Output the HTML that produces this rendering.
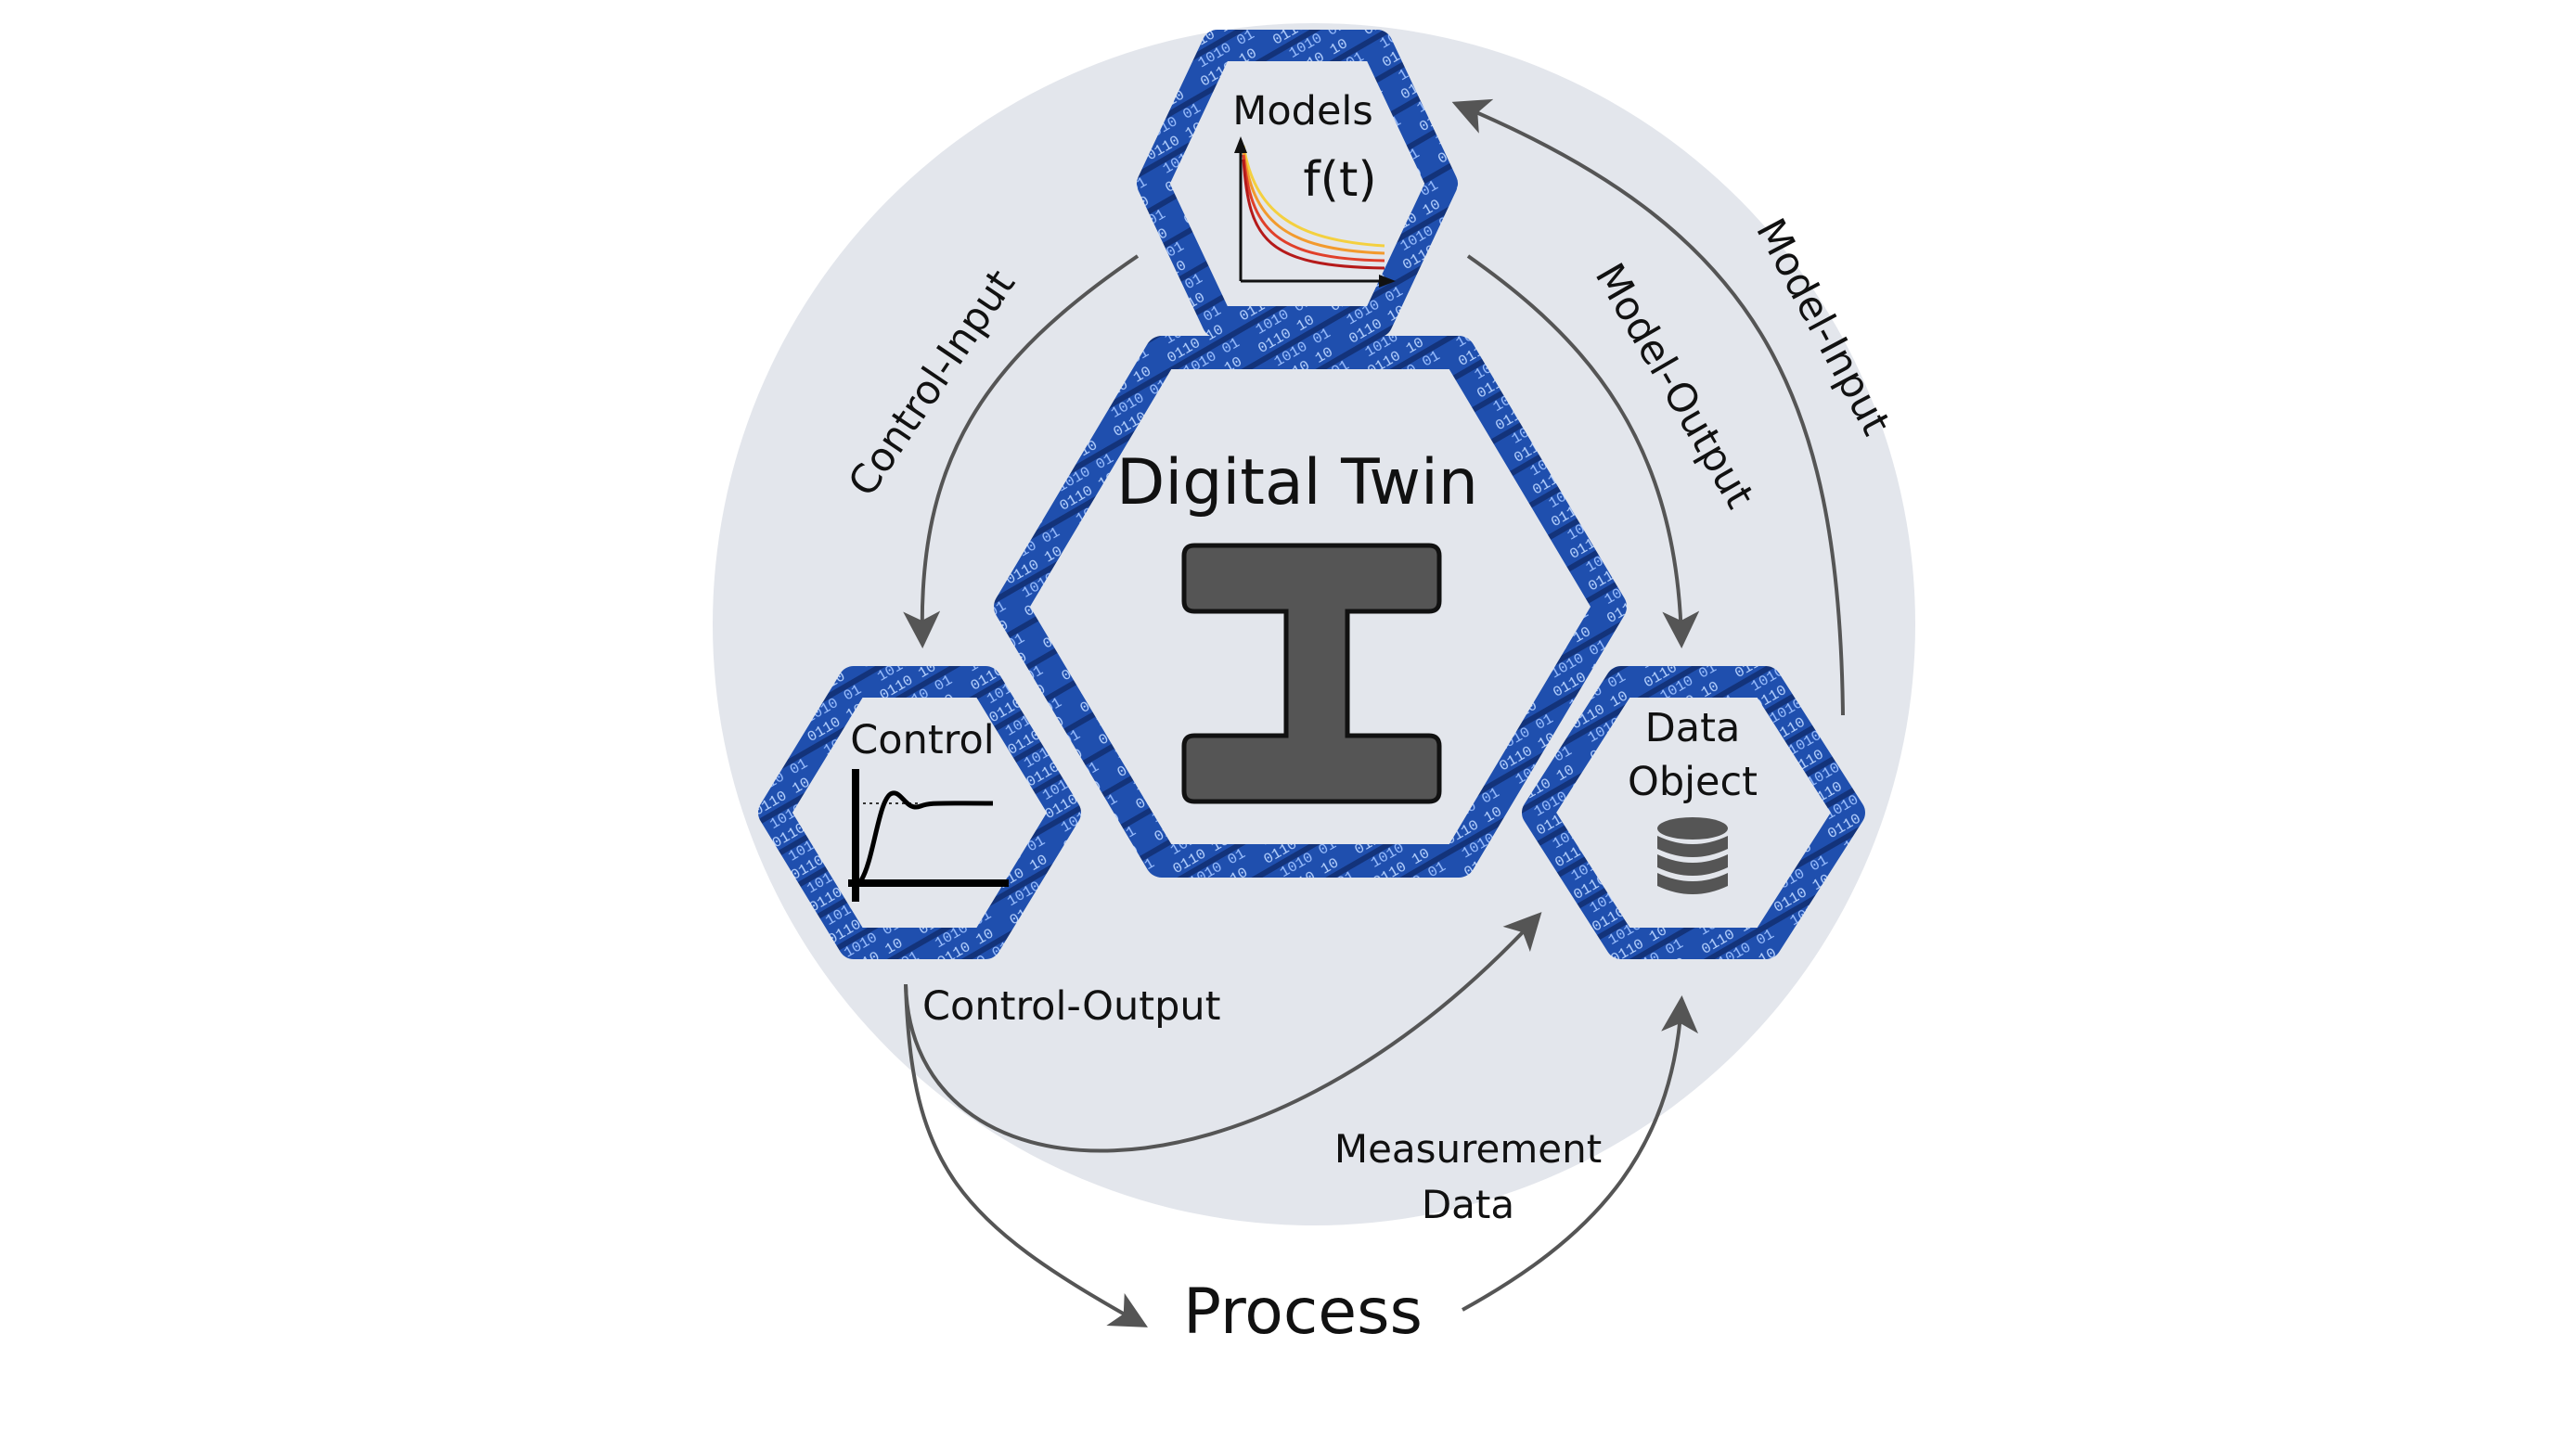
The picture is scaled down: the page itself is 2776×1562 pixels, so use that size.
<!DOCTYPE html>
<html><head><meta charset="utf-8"><style>
html,body{margin:0;padding:0;background:#fff;}
svg{display:block;}
text{font-family:"DejaVu Sans","Liberation Sans",sans-serif;fill:#111;}
</style></head><body>
<svg width="2776" height="1562" viewBox="0 0 2776 1562" xmlns="http://www.w3.org/2000/svg">
<defs>
<pattern id="bin" width="90" height="40" patternUnits="userSpaceOnUse" patternTransform="rotate(-30)">
<rect width="90" height="40" fill="#1f4fae"/>
<rect y="20" width="90" height="6" fill="#13337a"/>
<text x="2" y="16" font-size="16" style="fill:#b9d4ff;font-family:'Liberation Mono',monospace">0110 10</text>
<text x="10" y="37" font-size="16" style="fill:#9cc0ff;font-family:'Liberation Mono',monospace">1010 01</text>
</pattern>
<marker id="ah" markerWidth="10" markerHeight="10" refX="8" refY="5" orient="auto" markerUnits="strokeWidth" viewBox="0 0 10 10">
<path d="M0,0 L10,5 L0,10 L2.5,5 Z" fill="#555"/>
</marker>
</defs>
<g transform="translate(-8,-3)">
<circle cx="1424" cy="676" r="648" fill="#e3e6ec"/>

<g stroke="url(#bin)" stroke-linejoin="round" fill="#e3e6ec">
<polygon points="1250,201 1320,52 1492,52 1562,201 1492,350 1320,350" stroke-width="34"/>
<polygon points="1097,657 1260,383 1580,383 1743,657 1580,931 1260,931" stroke-width="36"/>
<polygon points="842,879 928,738 1070,738 1156,879 1070,1020 928,1020" stroke-width="34"/>
<polygon points="1665,879 1755,738 1911,738 2001,879 1911,1020 1755,1020" stroke-width="34"/>
</g>

<text x="1412" y="137" font-size="43" text-anchor="middle">Models</text>
<text x="1452" y="214" font-size="52" text-anchor="middle">f(t)</text>
<g fill="none" stroke-width="3">
<path d="M1348,160 C1360,230 1400,262 1500,268" stroke="#f4d03f"/>
<path d="M1348,165 C1358,240 1390,272 1500,276" stroke="#f29a2e"/>
<path d="M1348,170 C1356,250 1380,282 1500,284" stroke="#e0402a"/>
<path d="M1348,175 C1354,262 1372,290 1500,292" stroke="#b51a1a"/>
<path d="M1345,306 L1345,160" stroke="#111" stroke-width="3"/>
<path d="M1345,306 L1500,306" stroke="#111" stroke-width="3"/>
</g>
<path d="M1345,150 L1338,168 L1352,168 Z M1512,306 L1494,299 L1494,313 Z" fill="#111"/>

<text x="1406" y="546" font-size="68" text-anchor="middle">Digital Twin</text>
<path d="M1295,591 H1548 Q1559,591 1559,602 V651 Q1559,662 1548,662 H1460 V796 H1548 Q1559,796 1559,807 V856 Q1559,867 1548,867 H1295 Q1284,867 1284,856 V807 Q1284,796 1295,796 H1394 V662 H1295 Q1284,662 1284,651 V602 Q1284,591 1295,591 Z" fill="#555" stroke="#111" stroke-width="5"/>

<text x="1002" y="815" font-size="43" text-anchor="middle">Control</text>
<path d="M931,869 L1000,869" stroke="#333" stroke-width="2" stroke-dasharray="3,4"/>
<path d="M930,832 L930,975 M922,955 L1095,955" stroke="#000" stroke-width="8" fill="none"/>
<path d="M936,952 C950,930 955,860 970,858 C980,856 985,878 1000,872 C1010,868 1015,869 1078,869" stroke="#000" stroke-width="5" fill="none"/>

<text x="1832" y="802" font-size="43" text-anchor="middle">Data</text>
<text x="1832" y="860" font-size="43" text-anchor="middle">Object</text>
<g fill="#555">
<ellipse cx="1832" cy="896" rx="38" ry="12"/>
<path d="M1794,904 Q1832,922 1870,904 V918 Q1832,936 1794,918 Z"/>
<path d="M1794,924 Q1832,942 1870,924 V938 Q1832,956 1794,938 Z"/>
<path d="M1794,944 Q1832,962 1870,944 V958 Q1832,976 1794,958 Z"/>
</g>

<g fill="none" stroke="#555" stroke-width="4" marker-end="url(#ah)">
<path d="M1234,279 C1068,392 997,498 1002,694"/>
<path d="M1590,279 C1720,370 1815,480 1820,694"/>
<path d="M1994,774 C1990,420 1900,250 1580,116"/>
<path d="M984,1064 C990,1300 1350,1330 1664,992"/>
<path d="M984,1064 C990,1260 1040,1320 1238,1430"/>
<path d="M1584,1415 C1720,1340 1810,1250 1820,1084"/>
</g>

<text font-size="43" text-anchor="middle" transform="translate(1024,424) rotate(-56)">Control-Input</text>
<text font-size="43" text-anchor="middle" transform="translate(1800,426) rotate(60)">Model-Output</text>
<text font-size="43" text-anchor="middle" transform="translate(1960,362) rotate(62)">Model-Input</text>
<text x="1002" y="1102" font-size="43">Control-Output</text>
<text x="1590" y="1256" font-size="42" text-anchor="middle">Measurement</text>
<text x="1590" y="1316" font-size="42" text-anchor="middle">Data</text>
<text x="1412" y="1440" font-size="68" text-anchor="middle">Process</text>
</g>
</svg>
</body></html>
